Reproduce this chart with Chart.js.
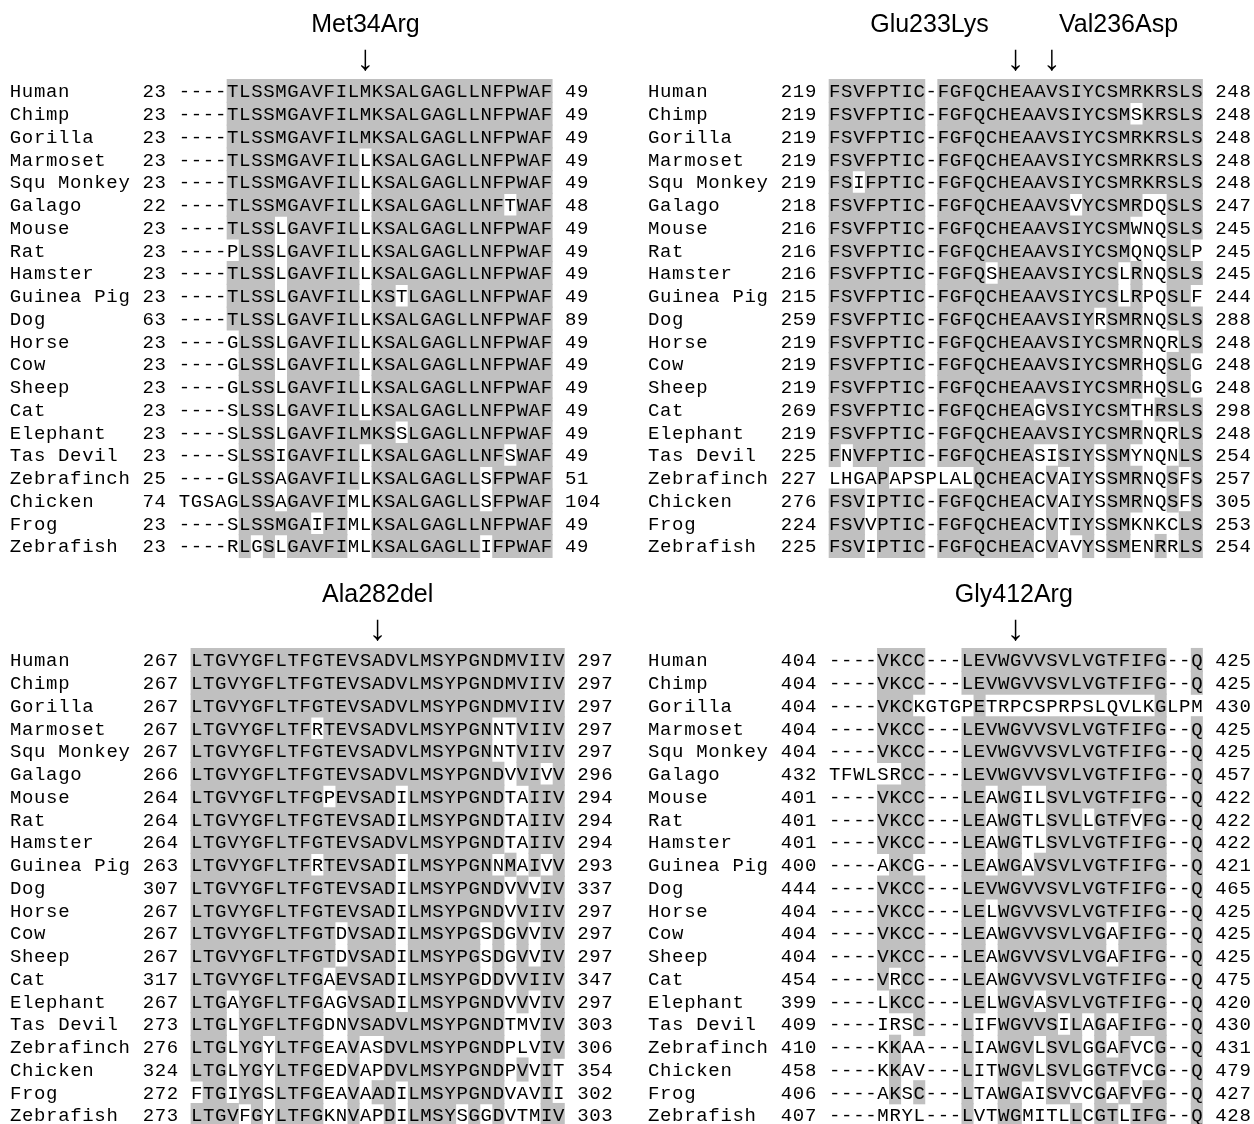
<!DOCTYPE html>
<html>
<head>
<meta charset="utf-8">
<script src="https://cdn.jsdelivr.net/npm/chart.js@4.4.0/dist/chart.umd.min.js"></script>
<style>
  body { margin: 0; background: #fff; }
  #wrap { position: relative; width: 1254px; height: 1124px; }
  canvas { position: absolute; }
</style>
</head>
<body>
<div id="wrap">
  <canvas id="panelA" width="627" height="562" style="left:0;top:0"></canvas>
  <canvas id="panelB" width="627" height="562" style="left:627px;top:0"></canvas>
  <canvas id="panelC" width="627" height="562" style="left:0;top:562px"></canvas>
  <canvas id="panelD" width="627" height="562" style="left:627px;top:562px"></canvas>
</div>
<script>
// species, same order in all four blocks
const species = ['Human', 'Chimp', 'Gorilla', 'Marmoset', 'Squ Monkey', 'Galago', 'Mouse', 'Rat',
  'Hamster', 'Guinea Pig', 'Dog', 'Horse', 'Cow', 'Sheep', 'Cat', 'Elephant', 'Tas Devil',
  'Zebrafinch', 'Chicken', 'Frog', 'Zebrafish'];

// block 1 : Met34Arg
const mutationsA = ['Met34Arg'];
const startsA = [23, 23, 23, 23, 23, 22, 23, 23, 23, 23, 63, 23, 23, 23, 23, 23, 23, 25, 74, 23, 23];
const endsA = [49, 49, 49, 49, 49, 48, 49, 49, 49, 49, 89, 49, 49, 49, 49, 49, 49, 51, 104, 49, 49];
const seqsA = [
  '----TLSSMGAVFILMKSALGAGLLNFPWAF',
  '----TLSSMGAVFILMKSALGAGLLNFPWAF',
  '----TLSSMGAVFILMKSALGAGLLNFPWAF',
  '----TLSSMGAVFILLKSALGAGLLNFPWAF',
  '----TLSSMGAVFILLKSALGAGLLNFPWAF',
  '----TLSSMGAVFILLKSALGAGLLNFTWAF',
  '----TLSSLGAVFILLKSALGAGLLNFPWAF',
  '----PLSSLGAVFILLKSALGAGLLNFPWAF',
  '----TLSSLGAVFILLKSALGAGLLNFPWAF',
  '----TLSSLGAVFILLKSTLGAGLLNFPWAF',
  '----TLSSLGAVFILLKSALGAGLLNFPWAF',
  '----GLSSLGAVFILLKSALGAGLLNFPWAF',
  '----GLSSLGAVFILLKSALGAGLLNFPWAF',
  '----GLSSLGAVFILLKSALGAGLLNFPWAF',
  '----SLSSLGAVFILLKSALGAGLLNFPWAF',
  '----SLSSLGAVFILMKSSLGAGLLNFPWAF',
  '----SLSSIGAVFILLKSALGAGLLNFSWAF',
  '----GLSSAGAVFILLKSALGAGLLSFPWAF',
  'TGSAGLSSAGAVFIMLKSALGAGLLSFPWAF',
  '----SLSSMGAIFIMLKSALGAGLLNFPWAF',
  '----RLGSLGAVFIMLKSALGAGLLIFPWAF'
];

// block 2 : Glu233Lys, Val236Asp
const mutationsB = ['Glu233Lys', 'Val236Asp'];
const startsB = [219, 219, 219, 219, 219, 218, 216, 216, 216, 215, 259, 219, 219, 219, 269, 219, 225, 227, 276, 224, 225];
const endsB = [248, 248, 248, 248, 248, 247, 245, 245, 245, 244, 288, 248, 248, 248, 298, 248, 254, 257, 305, 253, 254];
const seqsB = [
  'FSVFPTIC-FGFQCHEAAVSIYCSMRKRSLS',
  'FSVFPTIC-FGFQCHEAAVSIYCSMSKRSLS',
  'FSVFPTIC-FGFQCHEAAVSIYCSMRKRSLS',
  'FSVFPTIC-FGFQCHEAAVSIYCSMRKRSLS',
  'FSIFPTIC-FGFQCHEAAVSIYCSMRKRSLS',
  'FSVFPTIC-FGFQCHEAAVSVYCSMRDQSLS',
  'FSVFPTIC-FGFQCHEAAVSIYCSMWNQSLS',
  'FSVFPTIC-FGFQCHEAAVSIYCSMQNQSLP',
  'FSVFPTIC-FGFQSHEAAVSIYCSLRNQSLS',
  'FSVFPTIC-FGFQCHEAAVSIYCSLRPQSLF',
  'FSVFPTIC-FGFQCHEAAVSIYRSMRNQSLS',
  'FSVFPTIC-FGFQCHEAAVSIYCSMRNQRLS',
  'FSVFPTIC-FGFQCHEAAVSIYCSMRHQSLG',
  'FSVFPTIC-FGFQCHEAAVSIYCSMRHQSLG',
  'FSVFPTIC-FGFQCHEAGVSIYCSMTHRSLS',
  'FSVFPTIC-FGFQCHEAAVSIYCSMRNQRLS',
  'FNVFPTIC-FGFQCHEASISIYSSMYNQNLS',
  'LHGAPAPSPLALQCHEACVAIYSSMRNQSFS',
  'FSVIPTIC-FGFQCHEACVAIYSSMRNQSFS',
  'FSVVPTIC-FGFQCHEACVTIYSSMKNKCLS',
  'FSVIPTIC-FGFQCHEACVAVYSSMENRRLS'
];

// block 3 : Ala282del
const mutationsC = ['Ala282del'];
const startsC = [267, 267, 267, 267, 267, 266, 264, 264, 264, 263, 307, 267, 267, 267, 317, 267, 273, 276, 324, 272, 273];
const endsC = [297, 297, 297, 297, 297, 296, 294, 294, 294, 293, 337, 297, 297, 297, 347, 297, 303, 306, 354, 302, 303];
const seqsC = [
  'LTGVYGFLTFGTEVSADVLMSYPGNDMVIIV',
  'LTGVYGFLTFGTEVSADVLMSYPGNDMVIIV',
  'LTGVYGFLTFGTEVSADVLMSYPGNDMVIIV',
  'LTGVYGFLTFRTEVSADVLMSYPGNNTVIIV',
  'LTGVYGFLTFGTEVSADVLMSYPGNNTVIIV',
  'LTGVYGFLTFGTEVSADVLMSYPGNDVVIVV',
  'LTGVYGFLTFGPEVSADILMSYPGNDTAIIV',
  'LTGVYGFLTFGTEVSADILMSYPGNDTAIIV',
  'LTGVYGFLTFGTEVSADVLMSYPGNDTAIIV',
  'LTGVYGFLTFRTEVSADILMSYPGNNMAIVV',
  'LTGVYGFLTFGTEVSADILMSYPGNDVVVIV',
  'LTGVYGFLTFGTEVSADILMSYPGNDVVIIV',
  'LTGVYGFLTFGTDVSADILMSYPGSDGVVIV',
  'LTGVYGFLTFGTDVSADILMSYPGSDGVVIV',
  'LTGVYGFLTFGAEVSADILMSYPGDDVVIIV',
  'LTGAYGFLTFGAGVSADILMSYPGNDVVVIV',
  'LTGLYGFLTFGDNVSADVLMSYPGNDTMVIV',
  'LTGLYGYLTFGEAVASDVLMSYPGNDPLVIV',
  'LTGLYGYLTFGEDVAPDVLMSYPGNDPVVIT',
  'FTGIYGSLTFGEAVAADILMSYPGNDVAVII',
  'LTGVFGYLTFGKNVAPDILMSYSGGDVTMIV'
];

// block 4 : Gly412Arg
const mutationsD = ['Gly412Arg'];
const startsD = [404, 404, 404, 404, 404, 432, 401, 401, 401, 400, 444, 404, 404, 404, 454, 399, 409, 410, 458, 406, 407];
const endsD = [425, 425, 430, 425, 425, 457, 422, 422, 422, 421, 465, 425, 425, 425, 475, 420, 430, 431, 479, 427, 428];
const seqsD = [
  '----VKCC---LEVWGVVSVLVGTFIFG--Q',
  '----VKCC---LEVWGVVSVLVGTFIFG--Q',
  '----VKCKGTGPETRPCSPRPSLQVLKGLPM',
  '----VKCC---LEVWGVVSVLVGTFIFG--Q',
  '----VKCC---LEVWGVVSVLVGTFIFG--Q',
  'TFWLSRCC---LEVWGVVSVLVGTFIFG--Q',
  '----VKCC---LEAWGILSVLVGTFIFG--Q',
  '----VKCC---LEAWGTLSVLLGTFVFG--Q',
  '----VKCC---LEAWGTLSVLVGTFIFG--Q',
  '----AKCG---LEAWGAVSVLVGTFIFG--Q',
  '----VKCC---LEVWGVVSVLVGTFIFG--Q',
  '----VKCC---LELWGVVSVLVGTFIFG--Q',
  '----VKCC---LEAWGVVSVLVGAFIFG--Q',
  '----VKCC---LEAWGVVSVLVGAFIFG--Q',
  '----VRCC---LEAWGVVSVLVGTFIFG--Q',
  '----LKCC---LELWGVASVLVGTFIFG--Q',
  '----IRSC---LIFWGVVSILAGAFIFG--Q',
  '----KKAA---LIAWGVLSVLGGAFVCG--Q',
  '----KKAV---LITWGVLSVLGGTFVCG--Q',
  '----AKSC---LTAWGAISVVCGAFVFG--Q',
  '----MRYL---LVTWGMITLLCGTLIFG--Q'
];

// page layout
const CHAR_W = 12.07;   // one alignment column, px
const ROW_H = 22.75;    // one sequence row, px
const GRAY = '#c0c0c0';
const SEQ_FONT = '19px "Liberation Mono", "Courier New", monospace';
const TITLE_FONT = '25px "Liberation Sans", Arial, sans-serif';
const ARROW_FONT = '36px "Liberation Sans", Arial, sans-serif';
const BASE_DY = 6.3;

// cells identical to the first (human) row are shaded; runs are merged into one bar
function shadeRuns(seqs) {
  const ref = seqs[0];
  const runs = [];
  seqs.forEach((s, r) => {
    const same = c => s[c] !== '-' && s[c] === ref[c];
    let c = 0;
    while (c < s.length) {
      if (same(c)) {
        let e = c;
        while (e + 1 < s.length && same(e + 1)) e++;
        runs.push({ x: [c, e + 1], y: r });
        c = e + 1;
      } else {
        c++;
      }
    }
  });
  return runs;
}

// alignment column of the residue named in a label like "Met34Arg"
function mutationColumn(label, seq, start) {
  const n = parseInt(label.match(/\d+/)[0], 10);
  let res = start - 1;
  for (let c = 0; c < seq.length; c++) {
    if (seq[c] !== '-') {
      res++;
      if (res === n) return c;
    }
  }
  return 0;
}

function drawPanel(id, seqs, starts, ends, mutations, lay) {
  const canvas = document.getElementById(id);
  const W = canvas.width, H = canvas.height;
  const numW = Math.max(...starts.map(v => String(v).length));
  const nameCol = -(11 + numW + 1);

  const textPlugin = {
    id: 'alignText',
    afterDatasetsDraw(chart) {
      const { ctx, scales: { x, y } } = chart;
      ctx.save();
      ctx.fillStyle = '#000';
      ctx.font = SEQ_FONT;
      ctx.textAlign = 'center';
      ctx.textBaseline = 'alphabetic';
      const cells = (str, col0, row) => {
        for (let i = 0; i < str.length; i++) {
          ctx.fillText(str[i], x.getPixelForValue(col0 + i + 0.5), y.getPixelForValue(row) + BASE_DY);
        }
      };
      species.forEach((name, r) => {
        cells(name, nameCol, r);
        const st = String(starts[r]);
        cells(st, -1 - st.length, r);
        cells(seqs[r], 0, r);
        cells(String(ends[r]), seqs[r].length + 1, r);
      });

      // mutation labels with arrows
      ctx.textBaseline = 'middle';
      const y0 = y.getPixelForValue(0);
      mutations.forEach((m, i) => {
        const col = mutationColumn(m, seqs[0], starts[0]);
        const ax = x.getPixelForValue(col + 0.5);
        const l = lay.labels[i];
        ctx.font = TITLE_FONT;
        ctx.textAlign = l.align;
        ctx.fillText(m, ax + l.dx, y0 + lay.titleDy);
        ctx.font = ARROW_FONT;
        ctx.textAlign = 'center';
        ctx.fillText('\u2193', ax, y0 + lay.arrowDy);
      });
      ctx.restore();
    }
  };

  new Chart(canvas, {
    type: 'bar',
    data: {
      datasets: [{
        data: shadeRuns(seqs),
        backgroundColor: GRAY,
        borderWidth: 0,
        barPercentage: 1.06,
        categoryPercentage: 1,
        grouped: false
      }]
    },
    options: {
      indexAxis: 'y',
      responsive: false,
      animation: false,
      layout: { padding: 0 },
      plugins: { legend: { display: false }, tooltip: { enabled: false } },
      scales: {
        x: {
          type: 'linear', display: false,
          min: -lay.seqLeft / CHAR_W,
          max: (W - lay.seqLeft) / CHAR_W
        },
        y: {
          type: 'linear', display: false, reverse: true, offset: false,
          min: -lay.firstRowY / ROW_H,
          max: (H - lay.firstRowY) / ROW_H,
          ticks: { stepSize: 1, includeBounds: false }
        }
      }
    },
    plugins: [textPlugin]
  });
}

drawPanel('panelA', seqsA, startsA, endsA, mutationsA,
  { seqLeft: 178.4, firstRowY: 91, titleDy: -66, arrowDy: -31, labels: [{ align: 'center', dx: 0 }] });
drawPanel('panelB', seqsB, startsB, endsB, mutationsB,
  { seqLeft: 201.7, firstRowY: 91, titleDy: -66, arrowDy: -31, labels: [{ align: 'right', dx: -27 }, { align: 'left', dx: 7 }] });
drawPanel('panelC', seqsC, startsC, endsC, mutationsC,
  { seqLeft: 190.6, firstRowY: 98, titleDy: -65, arrowDy: -30, labels: [{ align: 'center', dx: 0 }] });
drawPanel('panelD', seqsD, startsD, endsD, mutationsD,
  { seqLeft: 201.7, firstRowY: 98, titleDy: -65, arrowDy: -30, labels: [{ align: 'center', dx: -2 }] });
</script>
</body>
</html>
